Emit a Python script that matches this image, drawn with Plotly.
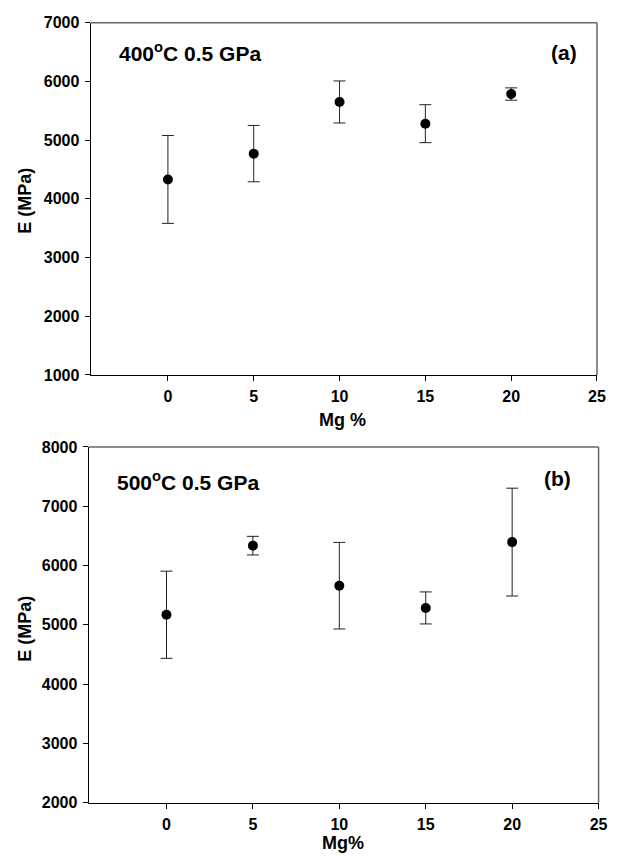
import plotly.graph_objects as go

mg = [0, 5, 10, 15, 20]
e_400 = [4330, 4770, 5650, 5280, 5785]
err_400 = [748, 480, 358, 323, 105]
e_500 = [5170, 6335, 5660, 5285, 6395]
err_500 = [735, 157, 730, 270, 909]

xticks = [0, 5, 10, 15, 20, 25]
yticks_a = [1000, 2000, 3000, 4000, 5000, 6000, 7000]
yticks_b = [2000, 3000, 4000, 5000, 6000, 7000, 8000]

W, H = 626, 865
FONT = "Liberation Sans, Arial, sans-serif"

fig = go.Figure()

def add_series(x, y, e, xa, ya):
    fig.add_trace(go.Scatter(
        x=x, y=y, mode="markers", xaxis=xa, yaxis=ya,
        marker=dict(symbol="circle", size=10, color="black"),
        error_y=dict(type="data", array=e, visible=True, color="#222222",
                     thickness=1, width=6),
        showlegend=False, hoverinfo="skip"))

add_series(mg, e_400, err_400, "x", "y")
add_series(mg, e_500, err_500, "x2", "y2")

top_dom_x = [92 / W, 605.7 / W]
top_dom_y = [1 - 374.3 / H, 1 - 15 / H]
bot_dom_x = [90 / W, 607.3 / W]
bot_dom_y = [1 - 810.7 / H, 1 - 447.7 / H]

tickfont = dict(family=FONT, size=16, color="black", weight="bold")
axis_common = dict(showgrid=False, zeroline=False, showline=True,
                   linecolor="black", linewidth=1.2, ticks="outside",
                   ticklen=5, tickwidth=1, tickcolor="black",
                   tickfont=tickfont, mirror=False, ticklabelstandoff=2)

fig.update_layout(
    width=W, height=H, paper_bgcolor="white", plot_bgcolor="white",
    margin=dict(l=0, r=0, t=0, b=0),
    xaxis=dict(domain=top_dom_x, range=[-4.5, 25], tickvals=xticks,
               anchor="y", **axis_common),
    yaxis=dict(domain=top_dom_y, range=[1000, 7000], tickvals=yticks_a,
               anchor="x", **axis_common),
    xaxis2=dict(domain=bot_dom_x, range=[-4.5, 25], tickvals=xticks,
                anchor="y2", **axis_common),
    yaxis2=dict(domain=bot_dom_y, range=[2000, 8000], tickvals=yticks_b,
                anchor="x2", **axis_common),
)

# grey top and right frame lines
for xr, yr in [("x domain", "y domain"), ("x2 domain", "y2 domain")]:
    fig.add_shape(type="line", xref=xr, yref=yr, x0=0, x1=1, y0=1, y1=1,
                  line=dict(color="#666666", width=1.5))
    fig.add_shape(type="line", xref=xr, yref=yr, x0=1, x1=1, y0=0, y1=1,
                  line=dict(color="#666666", width=1.5))

ann_font = dict(family=FONT, size=21, color="black")
lab_font = dict(family=FONT, size=18, color="black")

annotations = [
    dict(text="<b>400<sup>o</sup>C 0.5 GPa</b>", x=119 / W, y=1 - 45 / H,
         xanchor="left", yanchor="middle", font=ann_font),
    dict(text="<b>(a)</b>", x=572 / W, y=1 - 45 / H,
         xanchor="center", yanchor="middle", font=ann_font),
    dict(text="<b>500<sup>o</sup>C 0.5 GPa</b>", x=117 / W, y=1 - 482 / H,
         xanchor="left", yanchor="middle", font=ann_font),
    dict(text="<b>(b)</b>", x=566 / W, y=1 - 480 / H,
         xanchor="center", yanchor="middle", font=ann_font),
    dict(text="<b>Mg %</b>", x=348 / W, y=1 - 420.7 / H,
         xanchor="center", yanchor="middle", font=lab_font),
    dict(text="<b>Mg%</b>", x=348 / W, y=1 - 851.5 / H,
         xanchor="center", yanchor="middle", font=lab_font),
    dict(text="<b>E (MPa)</b>", x=24.5 / W, y=1 - 196.4 / H, textangle=-90,
         xanchor="center", yanchor="middle", font=lab_font),
    dict(text="<b>E (MPa)</b>", x=24.5 / W, y=1 - 633 / H, textangle=-90,
         xanchor="center", yanchor="middle", font=lab_font),
]
for a in annotations:
    a.update(xref="paper", yref="paper", showarrow=False)
fig.update_layout(annotations=annotations)

fig.write_html("out.html")
